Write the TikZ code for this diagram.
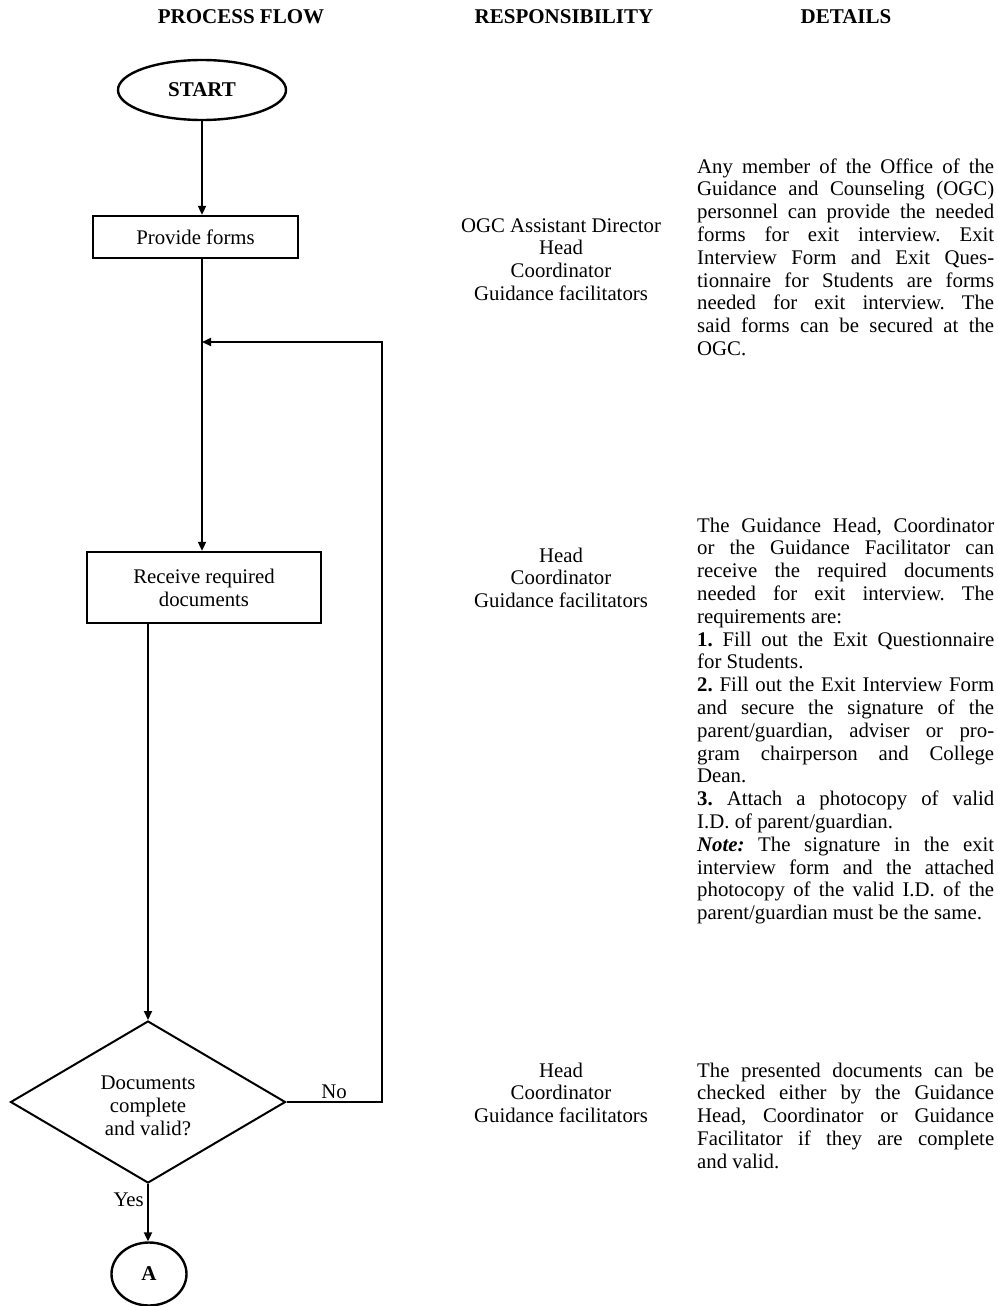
\documentclass[tikz,border=0pt]{standalone}
\usepackage{fontspec}
\setmainfont{Liberation Serif}
\usetikzlibrary{shapes.geometric,arrows.meta}

% one justified line of the details column, one last (ragged) line, one centred line
\newcommand{\fullln}[1]{\hbox to 297pt{#1}}
\newcommand{\lastln}[1]{\hbox{#1}}
\newcommand{\cln}[1]{\hbox to 0pt{\hss#1\hss}}
\frenchspacing

\begin{document}
\begin{tikzpicture}[x=1pt,y=-1pt,
  every node/.style={font=\fontsize{20.8}{22.8}\selectfont, inner sep=0pt},
  headfont/.style={font=\fontsize{21}{22.8}\selectfont\bfseries},
  shapeline/.style={draw, line width=2.4pt},
  conn/.style={line width=2pt},
  tip/.style={-{Triangle[length=9pt,width=8pt]}},
]
\useasboundingbox (0,0) rectangle (998,1306);

% column headings
\node[headfont, anchor=base] (hflow) at (241,24) {PROCESS FLOW};
\node[headfont, anchor=base] (hresp) at (564,24) {RESPONSIBILITY};
\node[headfont, anchor=base] (hdet)  at (846,24) {DETAILS};

% flow shapes
\node[shapeline, ellipse, minimum width=168pt, minimum height=60pt, headfont] (start) at (202,90) {START};
\node[shapeline, minimum width=205pt, minimum height=42pt] (provide) at (195.5,237) {Provide forms};
\node[shapeline, minimum width=234pt, minimum height=71pt, align=center] (receive) at (204,587.5) {Receive required\\documents};
\node[draw, line width=2pt, diamond, minimum width=275pt, minimum height=162pt] (check) at (148,1102) {};
\node[align=center] (checktxt) at (148,1106) {Documents\\complete\\and valid?};
\node[shapeline, ellipse, minimum width=75pt, minimum height=63pt, headfont] (conA) at (149,1274) {A};

% connectors
\coordinate (loopT) at (382,342);
\draw[conn, tip] (start.south) -- (start.south |- provide.north);
\draw[conn, tip] (provide.south -| start.south) -- (receive.north -| start.south);
\draw[conn, tip] (check.east) -| (loopT) -- (start.south |- loopT);
\draw[conn, tip] (receive.south -| check.north) -- (check.north);
\draw[conn, tip] (check.south) -- (check.south |- conA.north);
\node (nolbl) at (334,1092) {No};
\node[anchor=east] (yeslbl) at (144,1200) {Yes};

% responsibility column
\node[anchor=base] (resp1) at (561,232) {\vtop{\cln{OGC Assistant Director}\cln{Head}\cln{Coordinator}\cln{Guidance facilitators}}};
\node[anchor=base] (resp2) at (561,562) {\vtop{\cln{Head}\cln{Coordinator}\cln{Guidance facilitators}}};
\node[anchor=base] (resp3) at (561,1077) {\vtop{\cln{Head}\cln{Coordinator}\cln{Guidance facilitators}}};

% details column
\node[anchor=base west] (det1) at (697,173) {\vtop{%
\fullln{Any member of the Office of the}%
\fullln{Guidance and Counseling (OGC)}%
\fullln{personnel can provide the needed}%
\fullln{forms for exit interview. Exit}%
\fullln{Interview Form and Exit Ques-}%
\fullln{tionnaire for Students are forms}%
\fullln{needed for exit interview. The}%
\fullln{said forms can be secured at the}%
\lastln{OGC.}}};

\node[anchor=base west] (det2) at (697,532) {\vtop{%
\fullln{The Guidance Head, Coordinator}%
\fullln{or the Guidance Facilitator can}%
\fullln{receive the required documents}%
\fullln{needed for exit interview. The}%
\lastln{requirements are:}%
\fullln{\textbf{1.} Fill out the Exit Questionnaire}%
\lastln{for Students.}%
\fullln{\textbf{2.} Fill out the Exit Interview Form}%
\fullln{and secure the signature of the}%
\fullln{parent/guardian, adviser or pro-}%
\fullln{gram chairperson and College}%
\lastln{Dean.}%
\fullln{\textbf{3.} Attach a photocopy of valid}%
\lastln{I.D. of parent/guardian.}%
\fullln{\textbf{\textit{Note:}} The signature in the exit}%
\fullln{interview form and the attached}%
\fullln{photocopy of the valid I.D. of the}%
\lastln{parent/guardian must be the same.}}};

\node[anchor=base west] (det3) at (697,1077) {\vtop{%
\fullln{The presented documents can be}%
\fullln{checked either by the Guidance}%
\fullln{Head, Coordinator or Guidance}%
\fullln{Facilitator if they are complete}%
\lastln{and valid.}}};
\end{tikzpicture}
\end{document}
